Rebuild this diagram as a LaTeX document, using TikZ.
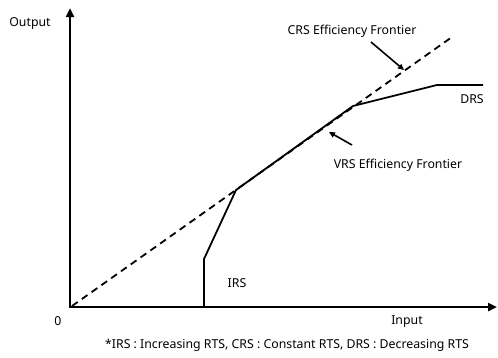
\documentclass[tikz,border=0pt]{standalone}
\usepackage{fontspec}
\setmainfont{Noto Sans}
\usetikzlibrary{arrows.meta}
\begin{document}
\begin{tikzpicture}[x=1pt,y=-1pt,
  lbl/.style={font=\fontsize{12.3}{14}\selectfont, inner sep=0pt},
  axis/.style={line width=2.8pt, -{Triangle[length=9pt,width=8pt]}},
  front/.style={line width=1.8pt, line join=round},
  crs/.style={line width=1.8pt, dash pattern=on 7pt off 5pt},
  note/.style={line width=1.6pt, -{Triangle[length=6pt,width=5.5pt]}}]
\useasboundingbox (0,0) rectangle (498,357);
\coordinate (O) at (70,307);
\coordinate (ytop) at (70,8);
\coordinate (xend) at (497,307);
\coordinate (c1) at (72,306);
\coordinate (c2) at (452,37);
\coordinate (f0) at (204,307);
\coordinate (f1) at (204,259);
\coordinate (f2) at (236,190);
\coordinate (f3) at (353,106);
\coordinate (f4) at (437,85);
\coordinate (f5) at (483,85);
\coordinate (a1s) at (371,42);
\coordinate (a1e) at (404,70);
\coordinate (a2s) at (352,145);
\coordinate (a2e) at (329,132);
\draw[crs] (c1) -- (c2);
\draw[front] (f0) -- (f1) -- (f2) -- (f3) -- (f4) -- (f5);
\draw[axis] (O) -- (ytop);
\draw[axis] ([xshift=-1.4pt]O) -- (xend);
\draw[note] (a1s) -- (a1e);
\draw[note] (a2s) -- (a2e);
\node[lbl] (out) at (30,24) {Output};
\node[lbl] (zero) at (58,321) {0};
\node[lbl] (in) at (407,322) {Input};
\node[lbl] (crsl) at (352,31) {CRS Efficiency Frontier};
\node[lbl] (vrsl) at (398,165) {VRS Efficiency Frontier};
\node[lbl] (drs) at (472,99) {DRS};
\node[lbl] (irs) at (237,283) {IRS};
\node[lbl] (fn) at (287,345) {*IRS : Increasing RTS, CRS : Constant RTS, DRS : Decreasing RTS};
\end{tikzpicture}
\end{document}
